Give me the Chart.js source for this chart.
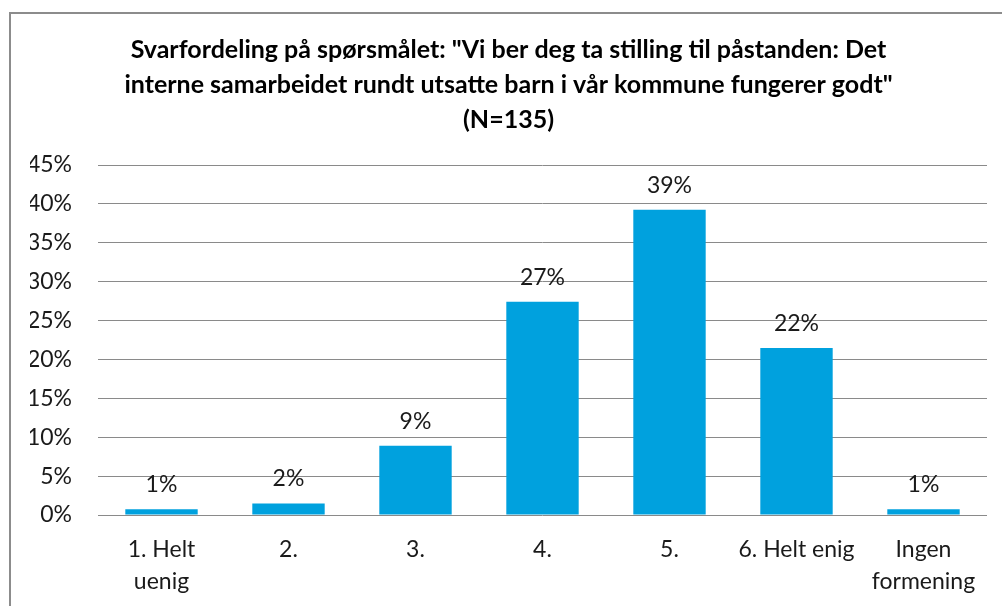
<!DOCTYPE html>
<html>
<head>
<meta charset="utf-8">
<script src="https://cdn.jsdelivr.net/npm/chart.js@4"></script>
<style>
  html, body { margin: 0; padding: 0; background: #fff; overflow: hidden; }
  #ramme { position: absolute; left: 9px; top: 12px; width: 1100px; height: 700px; border: 2px solid #8c8c8c; }
  #wrap { position: absolute; left: 0; top: 0; width: 1002px; height: 606px; }
</style>
</head>
<body>
<div id="ramme"></div>
<div id="wrap"><canvas id="grafSvar"></canvas></div>
<script>
// Svaralternativer og andel (%) av N=135
const kategorier = [['1. Helt', 'uenig'], '2.', '3.', '4.', '5.', '6. Helt enig', ['Ingen', 'formening']];
const andeler = [0.74, 1.48, 8.89, 27.41, 39.26, 21.48, 0.74];
const etiketter = ['1%', '2%', '9%', '27%', '39%', '22%', '1%'];
const tittel = [
    'Svarfordeling på spørsmålet: "Vi ber deg ta stilling til påstanden: Det',
    'interne samarbeidet rundt utsatte barn i vår kommune fungerer godt"',
    '(N=135)'
];

const fontNavn = 'Lato, "Open Sans", sans-serif';
const tekstStr = 23;

// skriver verdiene over søylene
const verdiEtiketter = {
    id: 'verdiEtiketter',
    afterDatasetsDraw(chart) {
        const c = chart.ctx;
        const meta = chart.getDatasetMeta(0);
        c.save();
        c.font = tekstStr + 'px ' + fontNavn;
        c.fillStyle = '#1a1a1a';
        c.textAlign = 'center';
        c.textBaseline = 'bottom';
        meta.data.forEach((bar, i) => {
            c.fillText(etiketter[i], bar.x, bar.y - 13);
        });
        c.restore();
    }
};

const ctx = document.getElementById('grafSvar').getContext('2d');
new Chart(ctx, {
    type: 'bar',
    data: {
        labels: kategorier,
        datasets: [{
            data: andeler,
            backgroundColor: '#00A1DE',
            borderWidth: 0,
            barPercentage: 0.57,
            categoryPercentage: 1
        }]
    },
    options: {
        responsive: true,
        maintainAspectRatio: false,
        animation: false,
        layout: { padding: { left: 30, right: 15, top: 12, bottom: 8 } },
        plugins: {
            legend: { display: false },
            tooltip: { enabled: false },
            title: {
                display: true,
                text: tittel,
                color: '#000',
                font: { family: fontNavn, size: 25, weight: 'bold', lineHeight: 1.4 },
                padding: { top: 20, bottom: 28 }
            }
        },
        scales: {
            x: {
                afterFit(scale) { scale.height = 83; },
                grid: { display: false, drawTicks: false },
                border: { display: false },
                ticks: {
                    color: '#1a1a1a',
                    font: { family: fontNavn, size: tekstStr, lineHeight: 1.39 },
                    padding: 19,
                    maxRotation: 0,
                    autoSkip: false
                }
            },
            y: {
                min: 0,
                max: 45,
                afterFit(scale) { scale.width = 68; },
                grid: { color: '#8a8a8a', lineWidth: 1, drawTicks: false },
                border: { display: false },
                ticks: {
                    stepSize: 5,
                    color: '#1a1a1a',
                    padding: 26,
                    font: { family: fontNavn, size: tekstStr },
                    callback: v => v + '%'
                }
            }
        }
    },
    plugins: [verdiEtiketter]
});
</script>
</body>
</html>
